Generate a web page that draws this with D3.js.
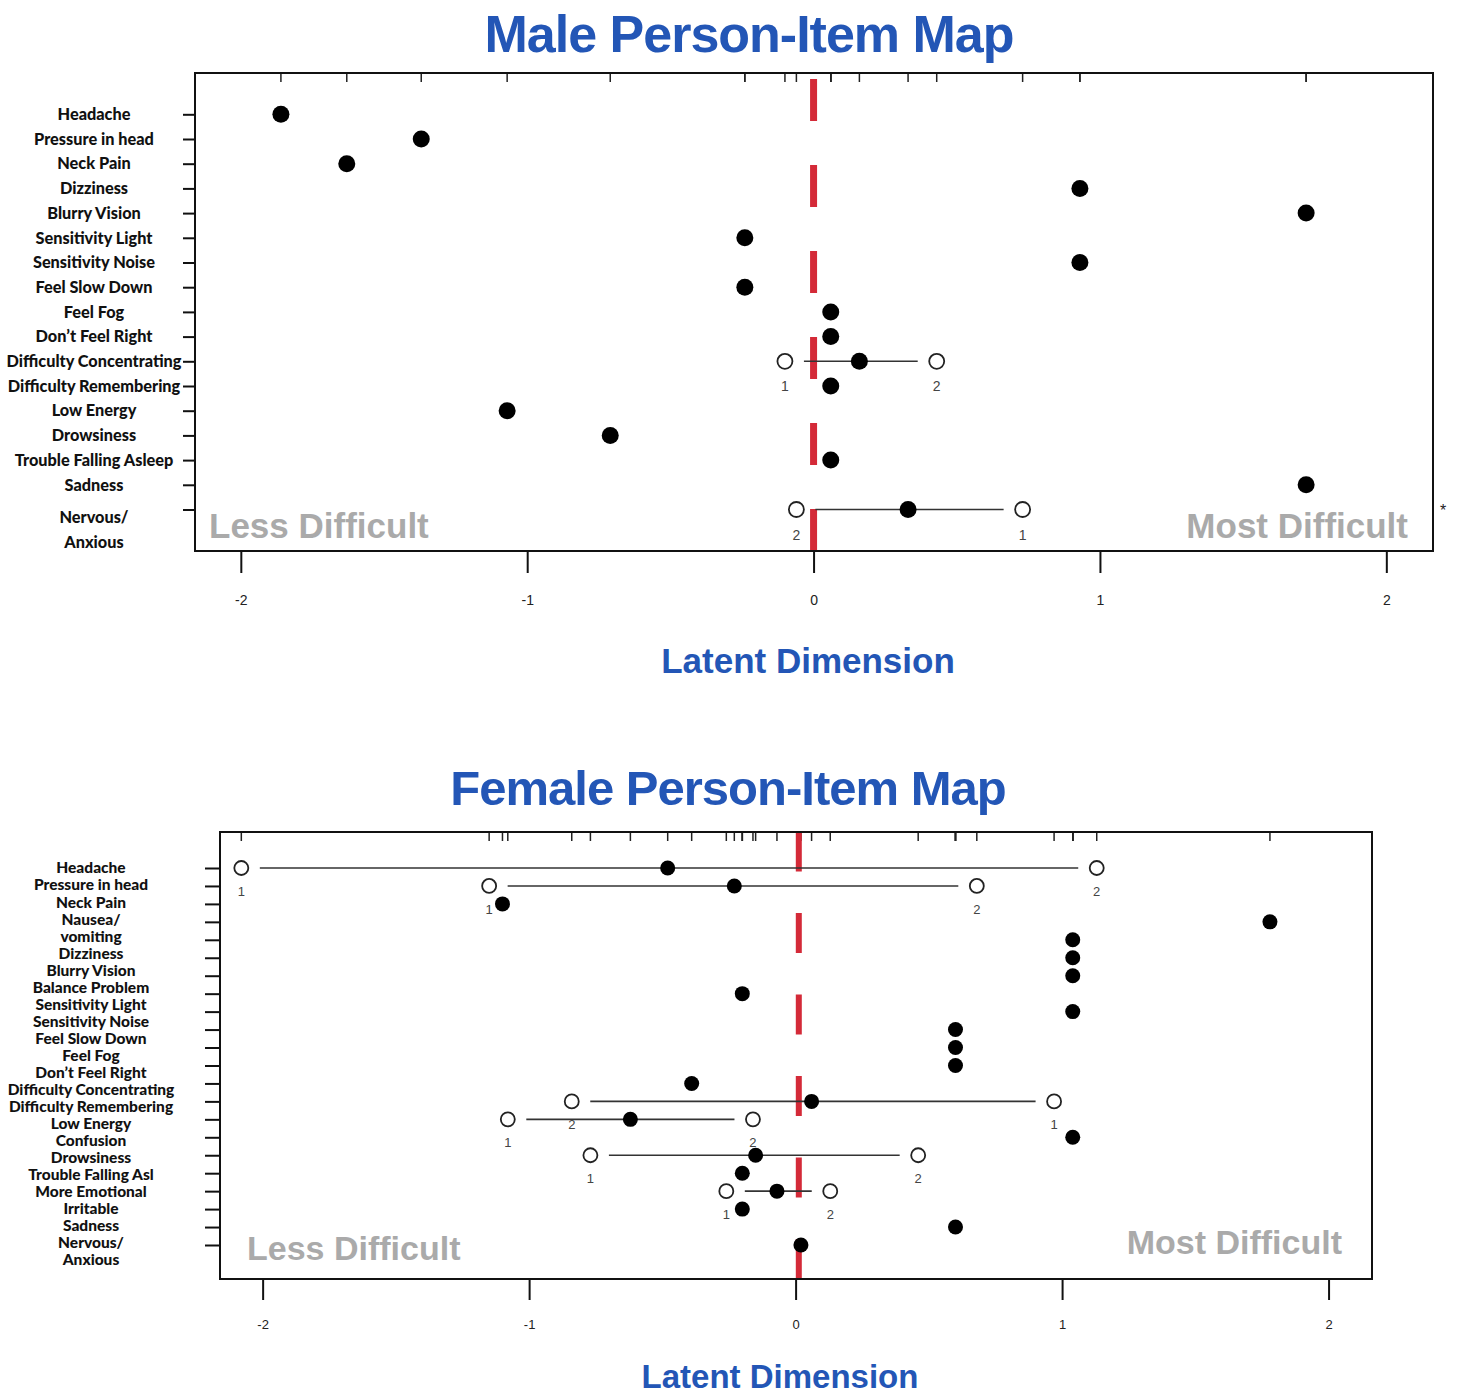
<!DOCTYPE html>
<html>
<head>
<meta charset="utf-8">
<script src="https://cdn.jsdelivr.net/npm/d3@7"></script>
<style>
  html, body { margin: 0; padding: 0; background: #fff; }
  svg { display: block; }
</style>
</head>
<body>
<svg id="chart" width="1460" height="1395"></svg>
<script>
// ---------------- DATA ----------------
const xTickValues = [-2, -1, 0, 1, 2];

// Male
const maleItems = ["Headache", "Pressure in head", "Neck Pain", "Dizziness", "Blurry Vision",
  "Sensitivity Light", "Sensitivity Noise", "Feel Slow Down", "Feel Fog", "Don’t Feel Right",
  "Difficulty Concentrating", "Difficulty Remembering", "Low Energy", "Drowsiness",
  "Trouble Falling Asleep", "Sadness", "Nervous/ Anxious"];
const maleLocation = [-1.86, -1.37, -1.63, 0.93, 1.72, -0.24, 0.93, -0.24, 0.06, 0.06,
  0.16, 0.06, -1.07, -0.71, 0.06, 1.72, 0.33];
const maleThreshItems = ["Difficulty Concentrating", "Nervous/ Anxious"];
const maleThresh1 = [-0.10, 0.73];
const maleThresh2 = [0.43, -0.06];
const maleRefLine = 0.0;

// Female
const femaleItems = ["Headache", "Pressure in head", "Neck Pain", "Nausea/ vomiting", "Dizziness",
  "Blurry Vision", "Balance Problem", "Sensitivity Light", "Sensitivity Noise", "Feel Slow Down",
  "Feel Fog", "Don’t Feel Right", "Difficulty Concentrating", "Difficulty Remembering",
  "Low Energy", "Confusion", "Drowsiness", "Trouble Falling Asl", "More Emotional",
  "Irritable", "Sadness", "Nervous/ Anxious"];
const femaleLocation = [-0.48, -0.23, -1.10, 1.78, 1.04, 1.04, 1.04, -0.20, 1.04, 0.60,
  0.60, 0.60, -0.39, 0.06, -0.62, 1.04, -0.15, -0.20, -0.07, -0.20, 0.60, 0.02];
const femaleThreshItems = ["Headache", "Pressure in head", "Difficulty Remembering",
  "Low Energy", "Drowsiness", "More Emotional"];
const femaleThresh1 = [-2.08, -1.15, 0.97, -1.08, -0.77, -0.26];
const femaleThresh2 = [1.13, 0.68, -0.84, -0.16, 0.46, 0.13];
const femaleRefLine = 0.012;

// ---------------- DRAWING ----------------
const svg = d3.select("#chart");
const BLUE = "#2356b6";
const RED = "#d42a38";

function drawPanel(cfg) {
  const g = svg.append("g");
  const x = d3.scaleLinear().domain([-2.16, 2.163]).range([cfg.left, cfg.right]);
  const y = d3.scalePoint().domain(cfg.items).range([cfg.rowTop, cfg.rowBottom]);

  // title
  g.append("text").attr("x", cfg.titleX).attr("y", cfg.titleY)
    .attr("text-anchor", "middle")
    .style("font-family", "'Liberation Sans', Arial, sans-serif")
    .style("font-weight", "bold").style("font-size", cfg.titleSize + "px")
    .style("letter-spacing", "-1px")
    .attr("fill", BLUE).text(cfg.title);

  // background labels
  g.append("text").attr("x", cfg.lessX).attr("y", cfg.lessY)
    .style("font-family", "'Liberation Sans', Arial, sans-serif")
    .style("font-weight", "bold").style("font-size", cfg.bgSize + "px")
    .attr("fill", "#aaaaaa").text("Less Difficult");
  g.append("text").attr("x", cfg.mostX).attr("y", cfg.mostY)
    .attr("text-anchor", "end")
    .style("font-family", "'Liberation Sans', Arial, sans-serif")
    .style("font-weight", "bold").style("font-size", cfg.bgSize + "px")
    .attr("fill", "#aaaaaa").text("Most Difficult");

  // top rug of all item locations
  const rugVals = cfg.location.concat(cfg.t1, cfg.t2);
  g.append("g").selectAll("line").data(rugVals).join("line")
    .attr("x1", d => x(d)).attr("x2", d => x(d))
    .attr("y1", cfg.top).attr("y2", cfg.top + 9)
    .attr("stroke", "#222").attr("stroke-width", 1.5);

  // red reference line (dashed)
  g.append("line")
    .attr("x1", x(cfg.refLine)).attr("x2", x(cfg.refLine))
    .attr("y1", cfg.bottom).attr("y2", cfg.redTop)
    .attr("stroke", RED).attr("stroke-width", cfg.redWidth)
    .attr("stroke-dasharray", cfg.redDash);

  // threshold lines
  const thr = cfg.threshItems.map((it, i) => ({ item: it, t1: cfg.t1[i], t2: cfg.t2[i] }));
  const tg = g.append("g");
  tg.selectAll("line").data(thr).join("line")
    .attr("x1", d => x(Math.min(d.t1, d.t2)) + cfg.gap)
    .attr("x2", d => x(Math.max(d.t1, d.t2)) - cfg.gap)
    .attr("y1", d => y(d.item)).attr("y2", d => y(d.item))
    .attr("stroke", "#333").attr("stroke-width", 1.6);

  const opens = [];
  thr.forEach(d => {
    opens.push({ item: d.item, v: d.t1, lab: "1" });
    opens.push({ item: d.item, v: d.t2, lab: "2" });
  });
  tg.selectAll("circle").data(opens).join("circle")
    .attr("cx", d => x(d.v)).attr("cy", d => y(d.item))
    .attr("r", cfg.openR).attr("fill", "#fff")
    .attr("stroke", "#222").attr("stroke-width", 1.8);
  tg.selectAll("text").data(opens).join("text")
    .attr("x", d => x(d.v)).attr("y", d => y(d.item) + cfg.numDy)
    .attr("text-anchor", "middle")
    .style("font-family", "'Liberation Sans', Arial, sans-serif")
    .style("font-size", cfg.numSize + "px")
    .attr("fill", "#444").text(d => d.lab);

  // filled points
  g.append("g").selectAll("circle").data(cfg.items.map((it, i) => ({ item: it, v: cfg.location[i] })))
    .join("circle")
    .attr("cx", d => x(d.v)).attr("cy", d => y(d.item))
    .attr("r", cfg.dotR).attr("fill", "#000");

  // frame
  g.append("rect").attr("x", cfg.left).attr("y", cfg.top)
    .attr("width", cfg.right - cfg.left).attr("height", cfg.bottom - cfg.top)
    .attr("fill", "none").attr("stroke", "#111").attr("stroke-width", 2);

  // bottom axis
  const ax = g.append("g").attr("transform", `translate(0,${cfg.bottom})`)
    .call(d3.axisBottom(x).tickValues(xTickValues).tickFormat(d => String(d))
      .tickSize(cfg.tickLen).tickPadding(cfg.tickPad));
  ax.select(".domain").remove();
  ax.selectAll(".tick line").attr("stroke", "#111").attr("stroke-width", 2);
  ax.selectAll(".tick text")
    .style("font-family", "'Liberation Sans', Arial, sans-serif")
    .style("font-size", cfg.tickSize + "px").attr("fill", "#222");

  // left axis ticks
  const ay = g.append("g").attr("transform", `translate(${cfg.left},0)`)
    .call(d3.axisLeft(y).tickSize(cfg.yTickLen).tickFormat(""));
  ay.select(".domain").remove();
  ay.selectAll(".tick line").attr("stroke", "#111").attr("stroke-width", 2);

  // y labels
  const lines = [];
  if (cfg.labelMode === "tick") {
    cfg.items.forEach(it => {
      const parts = it.split("/ ");
      if (parts.length === 2) {
        lines.push({ t: parts[0] + "/", y: y(it) + 8 });
        lines.push({ t: parts[1], y: y(it) + 33 });
      } else lines.push({ t: it, y: y(it) });
    });
  } else {
    const flat = [];
    cfg.items.forEach(it => {
      const parts = it.split("/ ");
      if (parts.length === 2) { flat.push(parts[0] + "/"); flat.push(parts[1]); }
      else flat.push(it);
    });
    const ly = d3.scaleLinear().domain([0, flat.length - 1]).range([cfg.labTop, cfg.labBottom]);
    flat.forEach((t, i) => lines.push({ t, y: ly(i) }));
  }
  g.append("g").selectAll("text").data(lines).join("text")
    .attr("x", cfg.labX).attr("y", d => d.y).attr("dy", "0.35em")
    .attr("text-anchor", "middle")
    .style("font-family", "Lato, 'Open Sans', sans-serif")
    .style("font-weight", "900").style("font-size", cfg.labSize + "px")
    .attr("fill", "#111").text(d => d.t);

  // x axis title
  g.append("text").attr("x", cfg.axTitleX).attr("y", cfg.axTitleY)
    .attr("text-anchor", "middle")
    .style("font-family", "'Liberation Sans', Arial, sans-serif")
    .style("font-weight", "bold").style("font-size", cfg.axTitleSize + "px")
    .attr("fill", BLUE).text("Latent Dimension");
}

drawPanel({
  title: "Male Person-Item Map", titleX: 749, titleY: 52, titleSize: 52,
  items: maleItems, location: maleLocation,
  threshItems: maleThreshItems, t1: maleThresh1, t2: maleThresh2, refLine: maleRefLine,
  left: 195, right: 1433, top: 73, bottom: 551,
  rowTop: 114.3, rowBottom: 509.5,
  redTop: 78, redWidth: 7, redDash: "42 44",
  gap: 19, openR: 7.5, dotR: 8.5, numDy: 30, numSize: 14,
  tickLen: 22, tickPad: 22, tickSize: 14, yTickLen: 12,
  labelMode: "tick", labX: 94, labSize: 16.3,
  lessX: 209, lessY: 538, mostX: 1408, mostY: 538, bgSize: 35,
  axTitleX: 808, axTitleY: 673, axTitleSize: 35
});

drawPanel({
  title: "Female Person-Item Map", titleX: 728, titleY: 805, titleSize: 49,
  items: femaleItems, location: femaleLocation,
  threshItems: femaleThreshItems, t1: femaleThresh1, t2: femaleThresh2, refLine: femaleRefLine,
  left: 220, right: 1372, top: 832, bottom: 1279,
  rowTop: 868, rowBottom: 1245,
  redTop: 832, redWidth: 6, redDash: "40 41.5",
  gap: 18.5, openR: 7, dotR: 7.5, numDy: 28, numSize: 13,
  tickLen: 21, tickPad: 20, tickSize: 13, yTickLen: 15,
  labelMode: "lines", labX: 91, labSize: 15.5, labTop: 868, labBottom: 1260,
  lessX: 247, lessY: 1260, mostX: 1342, mostY: 1254, bgSize: 34,
  axTitleX: 780, axTitleY: 1388, axTitleSize: 33
});

// stray asterisk at the right edge of the male panel
svg.append("text").attr("x", 1443).attr("y", 516).attr("text-anchor", "middle")
  .style("font-family", "'Liberation Sans', Arial, sans-serif").style("font-size", "16px")
  .attr("fill", "#222").text("*");
</script>
</body>
</html>
